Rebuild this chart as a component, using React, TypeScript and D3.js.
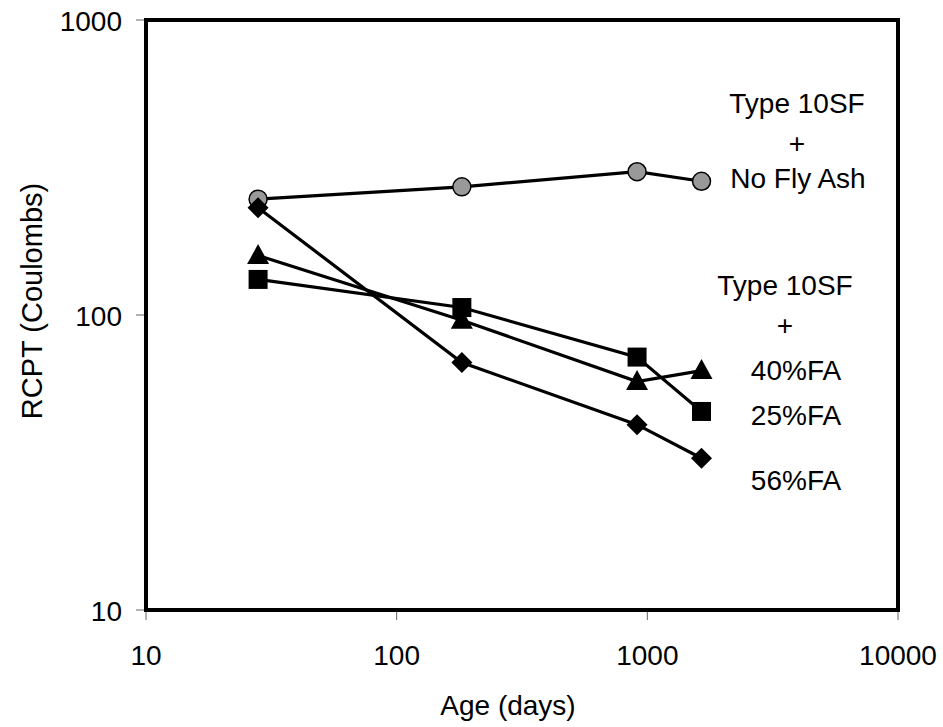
import { useEffect, useRef } from "react";
import * as d3 from "d3";

const ages = [28, 182, 910, 1645];
const noFlyAsh = [247, 272, 306, 284];
const fa56 = [231, 69, 42.5, 32.7];
const fa40 = [159, 96, 59.5, 64.8];
const fa25 = [132, 106, 72, 47.1];

const xTicks = [10, 100, 1000, 10000];
const yTicks = [10, 100, 1000];

const seriesList = [
  { name: "No Fly Ash", values: noFlyAsh, shape: "circle" },
  { name: "56%FA", values: fa56, shape: "diamond" },
  { name: "40%FA", values: fa40, shape: "triangle" },
  { name: "25%FA", values: fa25, shape: "square" },
];

// text notes next to the lines (x = centre, y = baseline)
const labels = [
  { text: "Type 10SF", x: 797, y: 113 },
  { text: "+", x: 797, y: 153 },
  { text: "No Fly Ash", x: 798, y: 188 },
  { text: "Type 10SF", x: 785, y: 295 },
  { text: "+", x: 785, y: 335 },
  { text: "40%FA", x: 796, y: 380 },
  { text: "25%FA", x: 796, y: 425 },
  { text: "56%FA", x: 796, y: 490 },
];

const font = "'Liberation Sans', Arial, sans-serif";

const drawMarker = (g, shape, cx, cy) => {
  if (shape === "circle") {
    g.append("circle")
      .attr("cx", cx)
      .attr("cy", cy)
      .attr("r", 9)
      .attr("fill", "#999999")
      .attr("stroke", "#000")
      .attr("stroke-width", 1.5);
    return;
  }
  let path;
  if (shape === "diamond") path = `M${cx},${cy - 10.5} L${cx + 10.5},${cy} L${cx},${cy + 10.5} L${cx - 10.5},${cy} Z`;
  if (shape === "square") path = `M${cx - 9.5},${cy - 9.5} h19 v19 h-19 Z`;
  if (shape === "triangle") path = `M${cx},${cy - 11.5} L${cx + 11},${cy + 8.5} L${cx - 11},${cy + 8.5} Z`;
  g.append("path").attr("d", path).attr("fill", "#000");
};

export default function App() {
  const ref = useRef(null);

  useEffect(() => {
    const width = 943;
    const height = 727;
    const svg = d3.select(ref.current);
    svg.selectAll("*").remove();

    const left = 146;
    const right = 898;
    const top = 20;
    const bottom = 610;

    const x = d3.scaleLog().domain([10, 10000]).range([left, right]);
    const y = d3.scaleLog().domain([10, 1000]).range([bottom, top]);

    svg.append("rect").attr("width", width).attr("height", height).attr("fill", "#fff");

    // ticks
    svg
      .selectAll("line.xtick")
      .data(xTicks)
      .join("line")
      .attr("class", "xtick")
      .attr("x1", (d) => x(d))
      .attr("x2", (d) => x(d))
      .attr("y1", bottom)
      .attr("y2", bottom + 10)
      .attr("stroke", "#666")
      .attr("stroke-width", 1);

    svg
      .selectAll("line.ytick")
      .data(yTicks)
      .join("line")
      .attr("class", "ytick")
      .attr("x1", left - 10)
      .attr("x2", left)
      .attr("y1", (d) => y(d))
      .attr("y2", (d) => y(d))
      .attr("stroke", "#666")
      .attr("stroke-width", 1);

    svg
      .selectAll("text.xlabel")
      .data(xTicks)
      .join("text")
      .attr("class", "xlabel")
      .attr("x", (d) => x(d))
      .attr("y", bottom + 55)
      .attr("text-anchor", "middle")
      .attr("font-family", font)
      .attr("font-size", 28)
      .text((d) => d);

    svg
      .selectAll("text.ylabel")
      .data(yTicks)
      .join("text")
      .attr("class", "ylabel")
      .attr("x", 122)
      .attr("y", (d) => y(d) + 11)
      .attr("text-anchor", "end")
      .attr("font-family", font)
      .attr("font-size", 28)
      .text((d) => d);

    // frame
    svg
      .append("rect")
      .attr("x", left)
      .attr("y", top)
      .attr("width", right - left)
      .attr("height", bottom - top)
      .attr("fill", "none")
      .attr("stroke", "#000")
      .attr("stroke-width", 4);

    const line = d3
      .line()
      .x((d) => x(d[0]))
      .y((d) => y(d[1]));

    seriesList.forEach((s) => {
      const pts = ages.map((a, i) => [a, s.values[i]]);
      const g = svg.append("g");
      g.append("path")
        .attr("d", line(pts))
        .attr("fill", "none")
        .attr("stroke", "#000")
        .attr("stroke-width", 3.2);
      pts.forEach((p) => drawMarker(g, s.shape, x(p[0]), y(p[1])));
    });

    svg
      .selectAll("text.note")
      .data(labels)
      .join("text")
      .attr("class", "note")
      .attr("x", (d) => d.x)
      .attr("y", (d) => d.y)
      .attr("text-anchor", "middle")
      .attr("font-family", font)
      .attr("font-size", 28)
      .text((d) => d.text);

    svg
      .append("text")
      .attr("x", 508)
      .attr("y", 715)
      .attr("text-anchor", "middle")
      .attr("font-family", font)
      .attr("font-size", 28)
      .text("Age (days)");

    svg
      .append("text")
      .attr("transform", "translate(42, 301) rotate(-90)")
      .attr("text-anchor", "middle")
      .attr("font-family", font)
      .attr("font-size", 29)
      .text("RCPT (Coulombs)");
  }, []);

  return (
    <svg
      ref={ref}
      width={943}
      height={727}
      style={{ position: "absolute", left: 0, top: 0, display: "block" }}
    />
  );
}
